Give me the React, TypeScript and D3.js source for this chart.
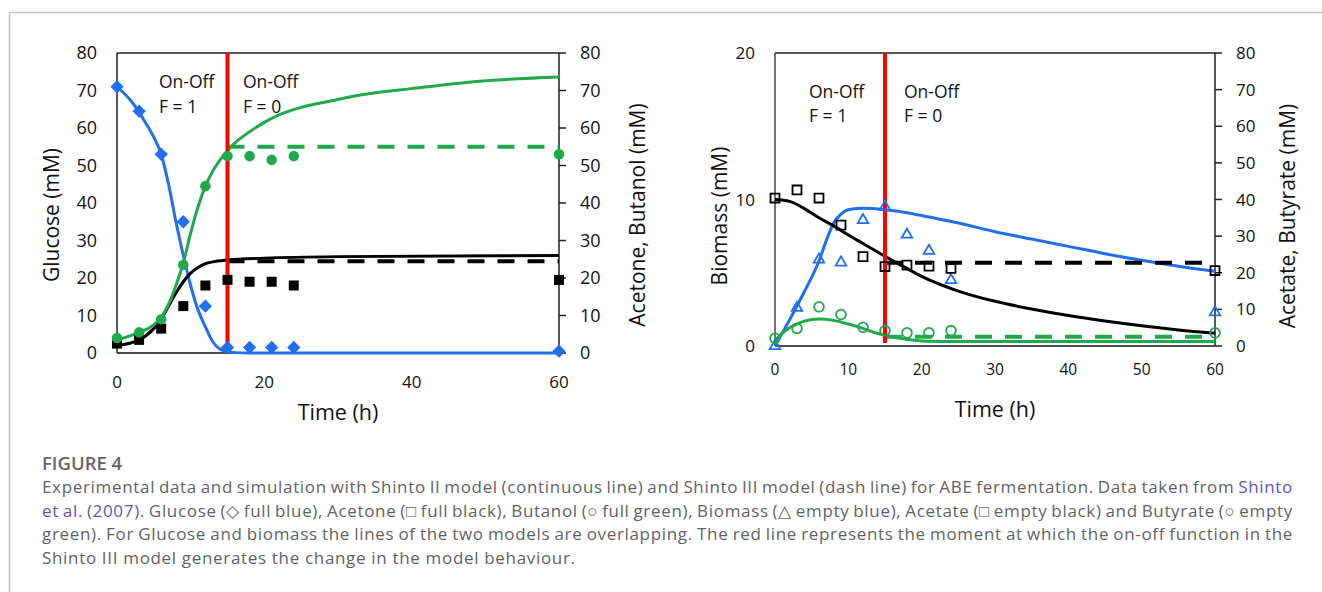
import { useLayoutEffect, useRef } from 'react';
import * as d3 from 'd3';

// ---------- shared ----------
const tExp = [0, 3, 6, 9, 12, 15, 18, 21, 24, 60];
const switchTime = 15;
const tAfterSwitch = [15, 60];

// ---------- left panel: glucose / acetone / butanol ----------
const glucoseExp = [71, 64.5, 53, 35, 12.5, 1.5, 1.5, 1.5, 1.5, 0.5];
const acetoneExp = [2.5, 3.5, 6.5, 12.5, 18, 19.5, 19, 19, 18, 19.5];
const butanolExp = [4, 5.5, 9, 23.5, 44.5, 52.5, 52.5, 51.5, 52.5, 53];

// Shinto II (continuous line)
const tGlucoseSim = [0, 2, 4, 5, 6, 7, 8, 9, 10, 11, 12, 13, 14, 15, 16, 18, 60];
const glucoseSim = [71, 67, 61, 57.5, 53, 45, 35, 26, 18, 11.5, 7, 3, 1, 0.4, 0.1, 0, 0];
const tAcetoneSim = [0, 3, 5, 6, 7, 8, 9, 10, 11, 12, 13, 15, 20, 30, 60];
const acetoneSim = [2, 3.5, 6.5, 9, 12.5, 16, 19, 21.3, 22.8, 23.8, 24.3, 24.8, 25.3, 25.7, 26];
const tButanolSim = [0, 3, 5, 6, 7, 8, 9, 10, 11, 12, 13, 14, 15, 16, 18, 20, 22, 25, 29, 33, 40, 50, 60];
const butanolSim = [3.5, 5.5, 7.5, 9.5, 13, 18, 24, 32, 39, 44.5, 48.5, 51.5, 54, 56, 59, 61.5, 63.5, 65.5, 67.2, 68.8, 70.5, 72.6, 73.6];

// Shinto III (dash line) after the switch
const acetoneDash = [24.5, 24.5];
const butanolDash = [55, 55];

// ---------- right panel: biomass / acetate / butyrate ----------
const biomassExp = [0, 2.6, 5.9, 5.7, 8.6, 9.5, 7.6, 6.5, 4.5, 2.3];
const acetateExp = [40.4, 42.6, 40.4, 33, 24.4, 21.7, 22.1, 21.8, 21.2, 20.6];
const butyrateExp = [2.1, 4.8, 10.7, 8.6, 5.1, 4.2, 3.6, 3.6, 4.2, 3.6];

const tBiomassSim = [0, 2, 4, 6, 7, 8, 9, 10, 12, 15, 18, 21, 25, 30, 35, 40, 45, 50, 55, 60];
const biomassSim = [0, 1.8, 3.7, 5.8, 7.2, 8.4, 9.0, 9.3, 9.4, 9.3, 9.1, 8.8, 8.4, 7.8, 7.3, 6.8, 6.3, 5.85, 5.45, 5.1];
const tAcetateSim = [0, 2, 4, 6, 8, 10, 12, 15, 18, 20, 25, 30, 35, 40, 45, 50, 55, 60];
const acetateSim = [40, 39.5, 37.5, 35, 32.8, 30.3, 28, 24.5, 21.2, 19, 15, 12.2, 10.1, 8.3, 6.8, 5.5, 4.4, 3.5];
const tButyrateSim = [0, 1, 2, 4, 6, 8, 10, 12, 14, 15, 17, 19, 21, 25, 60];
const butyrateSim = [1.5, 3.5, 5, 6.8, 7.4, 7, 6, 4.8, 3.4, 2.9, 2.1, 1.6, 1.3, 1.2, 1.2];

const acetateDash = [22.7, 22.7];
const butyrateDash = [2.5, 2.5];

// ---------- ticks ----------
const xTicksLeft = [0, 20, 40, 60];
const xTicksRight = [0, 10, 20, 30, 40, 50, 60];
const concTicks = [0, 10, 20, 30, 40, 50, 60, 70, 80];
const biomassTicks = [0, 10, 20];

const BLUE = '#1f6ff0';
const GREEN = '#1fa84c';
const RED = '#ff0000';
const FONT = "'Open Sans', 'Noto Sans', sans-serif";

type Axis = 'L' | 'R';
type Curve = { t: number[]; v: number[]; color: string; dash?: boolean; axis: Axis };
type Marks = {
  t: number[]; v: number[]; color: string; axis: Axis;
  shape: 'diamond' | 'square' | 'circle' | 'triangle'; filled: boolean;
};

interface PanelCfg {
  left: number; right: number; top: number; bottom: number;
  leftDomain: [number, number];
  leftTicks: number[]; xTicks: number[];
  tickSize: number; xTickSize: number; xTickBase: number; titleBase: number;
  leftLabel: string; rightLabel: string;
  leftLabelX: number; rightLabelX: number; labelCY: number;
  onOffX: [number, number]; onOffY: [number, number];
  leftAxisColor: string;
  curves: Curve[]; marks: Marks[];
}

const leftPanel: PanelCfg = {
  left: 117, right: 559, top: 53, bottom: 353,
  leftDomain: [0, 80], leftTicks: concTicks, xTicks: xTicksLeft,
  tickSize: 18, xTickSize: 17, xTickBase: 388, titleBase: 420,
  leftLabel: 'Glucose (mM)', rightLabel: 'Acetone, Butanol (mM)',
  leftLabelX: 52, rightLabelX: 638, labelCY: 215,
  onOffX: [159, 243], onOffY: [88, 113],
  leftAxisColor: '#222',
  curves: [
    { t: tGlucoseSim, v: glucoseSim, color: BLUE, axis: 'L' },
    { t: tAcetoneSim, v: acetoneSim, color: '#000', axis: 'R' },
    { t: tButanolSim, v: butanolSim, color: GREEN, axis: 'R' },
    { t: tAfterSwitch, v: acetoneDash, color: '#000', dash: true, axis: 'R' },
    { t: tAfterSwitch, v: butanolDash, color: GREEN, dash: true, axis: 'R' },
  ],
  marks: [
    { t: tExp, v: glucoseExp, color: BLUE, shape: 'diamond', filled: true, axis: 'L' },
    { t: tExp, v: acetoneExp, color: '#000', shape: 'square', filled: true, axis: 'R' },
    { t: tExp, v: butanolExp, color: GREEN, shape: 'circle', filled: true, axis: 'R' },
  ],
};

const rightPanel: PanelCfg = {
  left: 775, right: 1215, top: 53, bottom: 346,
  leftDomain: [0, 20], leftTicks: biomassTicks, xTicks: xTicksRight,
  tickSize: 17, xTickSize: 15.5, xTickBase: 375, titleBase: 417,
  leftLabel: 'Biomass (mM)', rightLabel: 'Acetate, Butyrate (mM)',
  leftLabelX: 720, rightLabelX: 1288, labelCY: 216,
  onOffX: [809, 904], onOffY: [98, 122],
  leftAxisColor: '#444',
  curves: [
    { t: tBiomassSim, v: biomassSim, color: BLUE, axis: 'L' },
    { t: tAcetateSim, v: acetateSim, color: '#000', axis: 'R' },
    { t: tButyrateSim, v: butyrateSim, color: GREEN, axis: 'R' },
    { t: tAfterSwitch, v: acetateDash, color: '#000', dash: true, axis: 'R' },
    { t: tAfterSwitch, v: butyrateDash, color: GREEN, dash: true, axis: 'R' },
  ],
  marks: [
    { t: tExp, v: biomassExp, color: BLUE, shape: 'triangle', filled: false, axis: 'L' },
    { t: tExp, v: acetateExp, color: '#000', shape: 'square', filled: false, axis: 'R' },
    { t: tExp, v: butyrateExp, color: GREEN, shape: 'circle', filled: false, axis: 'R' },
  ],
};

const symbolPath = {
  diamond: d3.symbol().type(d3.symbolSquare).size(88)(),
  square: d3.symbol().type(d3.symbolSquare).size(100)(),
  circle: d3.symbol().type(d3.symbolCircle).size(88)(),
  triangle: d3.symbol().type(d3.symbolTriangle).size(48)(),
  squareOpen: d3.symbol().type(d3.symbolSquare).size(80)(),
  circleOpen: d3.symbol().type(d3.symbolCircle).size(75)(),
};

function Panel({ cfg }: { cfg: PanelCfg }) {
  const x = d3.scaleLinear().domain([0, 60]).range([cfg.left, cfg.right]);
  const yL = d3.scaleLinear().domain(cfg.leftDomain).range([cfg.bottom, cfg.top]);
  const yR = d3.scaleLinear().domain([0, 80]).range([cfg.bottom, cfg.top]);
  const yOf = (a: Axis) => (a === 'L' ? yL : yR);

  const line = (c: Curve) =>
    d3.line<number>()
      .x((_, i) => x(c.t[i]))
      .y(v => yOf(c.axis)(v))
      .curve(d3.curveMonotoneX)(c.v) || '';

  const midX = (cfg.left + cfg.right) / 2;

  return (
    <g fontFamily={FONT} fill="#111">
      {/* frame */}
      <line x1={cfg.left} x2={cfg.right} y1={cfg.top} y2={cfg.top} stroke="#222" strokeWidth={1.5} />
      <line x1={cfg.left} x2={cfg.right} y1={cfg.bottom} y2={cfg.bottom} stroke="#111" strokeWidth={1.5} />
      <line x1={cfg.left} x2={cfg.left} y1={cfg.top} y2={cfg.bottom} stroke={cfg.leftAxisColor} strokeWidth={1.5} />
      <line x1={cfg.right} x2={cfg.right} y1={cfg.top} y2={cfg.bottom} stroke="#222" strokeWidth={1.5} />

      {/* left ticks */}
      {cfg.leftTicks.map(t => (
        <text key={'l' + t} x={cfg.left - 20} y={yL(t)} dy="0.36em" textAnchor="end" fontSize={cfg.tickSize}>{t}</text>
      ))}
      {/* right ticks */}
      {concTicks.map(t => (
        <g key={'r' + t}>
          <line x1={cfg.right} x2={cfg.right + 7} y1={yR(t)} y2={yR(t)} stroke="#222" strokeWidth={1.5} />
          <text x={cfg.right + 21} y={yR(t)} dy="0.36em" fontSize={cfg.tickSize}>{t}</text>
        </g>
      ))}
      {/* x ticks */}
      {cfg.xTicks.map(t => (
        <text key={'x' + t} x={x(t)} y={cfg.xTickBase} textAnchor="middle" fontSize={cfg.xTickSize}>{t}</text>
      ))}

      {/* axis titles */}
      <text x={midX} y={cfg.titleBase} textAnchor="middle" fontSize={21.5}>Time (h)</text>
      <text transform={`translate(${cfg.leftLabelX},${cfg.labelCY}) rotate(-90)`} dy="0.35em" textAnchor="middle" fontSize={21}>{cfg.leftLabel}</text>
      <text transform={`translate(${cfg.rightLabelX},${cfg.labelCY}) rotate(-90)`} dy="0.35em" textAnchor="middle" fontSize={21}>{cfg.rightLabel}</text>

      {/* on-off annotations */}
      <text x={cfg.onOffX[0]} y={cfg.onOffY[0]} fontSize={17.5}>On-Off</text>
      <text x={cfg.onOffX[0]} y={cfg.onOffY[1]} fontSize={17.5}>F = 1</text>
      <text x={cfg.onOffX[1]} y={cfg.onOffY[0]} fontSize={17.5}>On-Off</text>
      <text x={cfg.onOffX[1]} y={cfg.onOffY[1]} fontSize={17.5}>F = 0</text>

      {/* model curves */}
      {cfg.curves.map((c, i) => (
        <path key={'c' + i} d={line(c)} fill="none" stroke={c.color}
          strokeWidth={c.dash ? 4 : 3} strokeDasharray={c.dash ? '17 13' : undefined} />
      ))}

      {/* switch moment */}
      <line x1={x(switchTime)} x2={x(switchTime)} y1={cfg.top} y2={cfg.bottom - 3} stroke={RED} strokeWidth={4} />

      {/* experimental data */}
      {cfg.marks.map((m, i) => (
        <g key={'m' + i}>
          {m.v.map((v, j) => {
            const tx = x(m.t[j]);
            const ty = yOf(m.axis)(v);
            if (m.shape === 'diamond')
              return <path key={j} d={symbolPath.diamond} transform={`translate(${tx},${ty}) rotate(45)`} fill={m.color} />;
            if (m.filled)
              return <path key={j} d={symbolPath[m.shape]} transform={`translate(${tx},${ty})`} fill={m.color} />;
            const d = m.shape === 'square' ? symbolPath.squareOpen : m.shape === 'circle' ? symbolPath.circleOpen : symbolPath.triangle;
            return <path key={j} d={d} transform={`translate(${tx},${ty})`} fill="none" stroke={m.color} strokeWidth={1.8} />;
          })}
        </g>
      ))}
    </g>
  );
}

const captionLines = [
  [
    { s: 'Experimental data and simulation with Shinto II model (continuous line) and Shinto III model (dash line) for ABE fermentation. Data taken from ', link: false },
    { s: 'Shinto', link: true },
  ],
  [
    { s: 'et al. (2007)', link: true },
    { s: '. Glucose (\u25C7 full blue), Acetone (\u25A1 full black), Butanol (\u25CB full green), Biomass (\u25B3 empty blue), Acetate (\u25A1 empty black) and Butyrate (\u25CB empty', link: false },
  ],
  [
    { s: 'green). For Glucose and biomass the lines of the two models are overlapping. The red line represents the moment at which the on-off function in the', link: false },
  ],
  [
    { s: 'Shinto III model generates the change in the model behaviour.', link: false },
  ],
];

const CAP_X = 42;
const CAP_W = 1251;
const LAST_LINE_W = 533; // width of the unjustified last line in the figure

export default function App() {
  const capRef = useRef<SVGGElement>(null);

  // fit letter spacing on the last line, then justify the others with word gaps
  useLayoutEffect(() => {
    if (!capRef.current) return;
    const lines = Array.from(capRef.current.querySelectorAll<SVGTextElement>('text.cap'));
    const last = lines[lines.length - 1];
    const lastChars = (last.textContent || '').length;
    const ls = (LAST_LINE_W - last.getComputedTextLength()) / Math.max(1, lastChars - 1);
    lines.forEach(t => t.setAttribute('letter-spacing', String(ls)));
    lines.slice(0, -1).forEach(t => {
      const w = t.getComputedTextLength();
      const spaces = (t.textContent || '').split(' ').length - 1;
      if (spaces > 0) t.setAttribute('word-spacing', String((CAP_W - w) / spaces));
    });
  }, []);

  return (
    <svg width={1322} height={592} style={{ position: 'absolute', left: 0, top: 0, background: '#fff' }}>
      <rect x={0} y={0} width={1322} height={592} fill="#fff" />
      <line x1={9.5} x2={1322} y1={12.5} y2={12.5} stroke="#c4c4c4" strokeWidth={1.5} />
      <line x1={9.5} x2={9.5} y1={12.5} y2={592} stroke="#c4c4c4" strokeWidth={1.5} />

      <Panel cfg={leftPanel} />
      <Panel cfg={rightPanel} />

      <g ref={capRef} fontFamily="'Open Sans', 'Noto Sans', sans-serif">
        <text x={CAP_X} y={470} fontWeight={600} fontSize={18.5} fill="#666">FIGURE 4</text>
        {captionLines.map((ln, i) => (
          <text key={i} className="cap" x={CAP_X} y={493 + i * 23.6} fontSize={17} fill="#626262">
            {ln.map((p, k) => (
              <tspan key={k} fill={p.link ? '#5a54c4' : '#626262'}>{p.s}</tspan>
            ))}
          </text>
        ))}
      </g>
    </svg>
  );
}
